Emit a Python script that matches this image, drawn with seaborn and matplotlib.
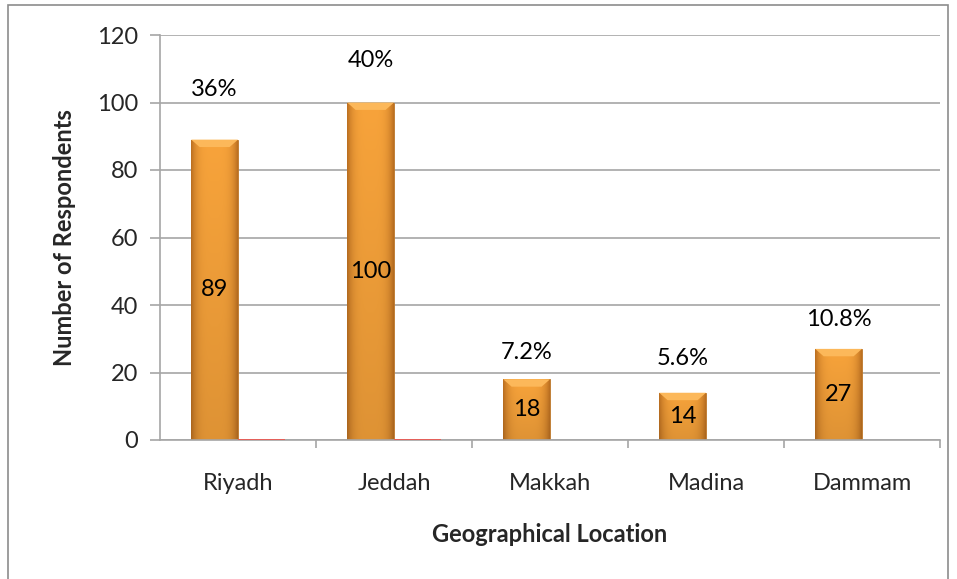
import numpy as np
import pandas as pd
import matplotlib
matplotlib.use("Agg")
import matplotlib.pyplot as plt
import seaborn as sns
from matplotlib.patches import Rectangle, Polygon
from matplotlib.ticker import FixedLocator

# ---- data ----
locations = ["Riyadh", "Jeddah", "Makkah", "Madina", "Dammam"]
respondents = [89, 100, 18, 14, 27]
percent_values = [0.36, 0.40, 0.072, 0.056, 0.108]
percent_labels = ["36%", "40%", "7.2%", "5.6%", "10.8%"]

# ---- style / layout (not data) ----
label_offsets_pt = [36, 30, 19, 25, 21]
FS = 17

sns.set_theme(style="white")
plt.rcParams["font.family"] = ["Lato", "DejaVu Sans"]

df = pd.DataFrame({
    "Location": locations * 2,
    "Value": respondents + percent_values,
    "Series": ["Count"] * len(locations) + ["Percent"] * len(locations),
})

fig = plt.figure(figsize=(9.57, 5.79), dpi=100)
ax = fig.add_axes([160 / 957, 1 - 440 / 579, (940 - 160) / 957, (440 - 35) / 579])

sns.barplot(data=df, x="Location", y="Value", hue="Series",
            palette={"Count": "#F39A33", "Percent": "#E4605A"},
            width=0.6, ax=ax, legend=False, saturation=1)

ax.set_xlim(-0.5, 4.5)
ax.set_ylim(0, 120)

# gradient fill on orange bars
count_container = ax.containers[0]
h, w = 64, 64
xs = np.linspace(-1, 1, w)
ys = np.linspace(0, 1, h)
X, Y = np.meshgrid(xs, ys)
edge = np.abs(X) ** 4
center = np.array([0.97, 0.64, 0.23])
dark = np.array([0.74, 0.44, 0.13])
img = center[None, None, :] * (1 - edge[..., None]) + dark[None, None, :] * edge[..., None]
vert = (0.90 + 0.10 * Y)[..., None]
img = np.clip(img * vert, 0, 1)
for bar in count_container.patches:
    x0, y0 = bar.get_x(), bar.get_y()
    bw, bh = bar.get_width(), bar.get_height()
    bar.set_edgecolor("#B8742A")
    bar.set_linewidth(0.6)
    z = bar.get_zorder()
    im = ax.imshow(img, extent=[x0, x0 + bw, y0, y0 + bh], origin="lower",
                   aspect="auto", zorder=z + 0.1)
    im.set_clip_path(bar)
    # top bevel highlight (trapezoid)
    bv = 2.2
    inset = bw * 0.18
    bevel = Polygon([(x0, y0 + bh), (x0 + bw, y0 + bh),
                     (x0 + bw - inset, y0 + bh - bv), (x0 + inset, y0 + bh - bv)],
                    closed=True, facecolor="#FCB85A", edgecolor="none", zorder=z + 0.2)
    ax.add_patch(bevel)

# red percent series drawn on top of axis line
for bar in ax.containers[1].patches:
    bar.set_zorder(6)
    bar.set_clip_on(False)
    bar.set_edgecolor("none")
    bar.set_linewidth(0)

ax.set_xlim(-0.5, 4.5)
ax.set_ylim(0, 120)

# value labels
for bar, val, plab, off in zip(count_container.patches, respondents, percent_labels, label_offsets_pt):
    cx = bar.get_x() + bar.get_width() / 2
    ax.text(cx, val / 2, str(val), ha="center", va="center", fontsize=FS,
            color="black", zorder=5)
    ax.annotate(plab, xy=(cx, val), xytext=(0, off), textcoords="offset points",
                ha="center", va="center", fontsize=FS, color="black")

# grid & spines
ax.yaxis.grid(True, color="#A6A6A6", linewidth=1.2)
ax.set_axisbelow(True)
for s in ["top", "right"]:
    ax.spines[s].set_visible(False)
for s in ["left", "bottom"]:
    ax.spines[s].set_color("#A6A6A6")
    ax.spines[s].set_linewidth(1.2)

ax.set_yticks([0, 20, 40, 60, 80, 100, 120])
ax.tick_params(axis="y", which="major", direction="out", length=7, width=1.2,
               color="#A6A6A6", labelsize=FS, pad=9, left=True)
ax.tick_params(axis="x", which="major", length=0, labelsize=FS, pad=24)
ax.xaxis.set_minor_locator(FixedLocator([0.5, 1.5, 2.5, 3.5, 4.5]))
ax.tick_params(axis="x", which="minor", direction="out", length=6, width=1.2,
               color="#A6A6A6", bottom=True)

ax.set_ylabel("Number of Respondents", fontsize=17, fontweight="bold", labelpad=15)
ax.set_xlabel("Geographical Location", fontsize=17, fontweight="bold", labelpad=21)

# outer border
fig.patches.append(Rectangle((8 / 957, -0.01), (948 - 8) / 957, 1 - 5 / 579 + 0.01,
                             transform=fig.transFigure, fill=False,
                             edgecolor="#8C8C8C", linewidth=1.2))

fig.savefig("out.png", dpi=100)
